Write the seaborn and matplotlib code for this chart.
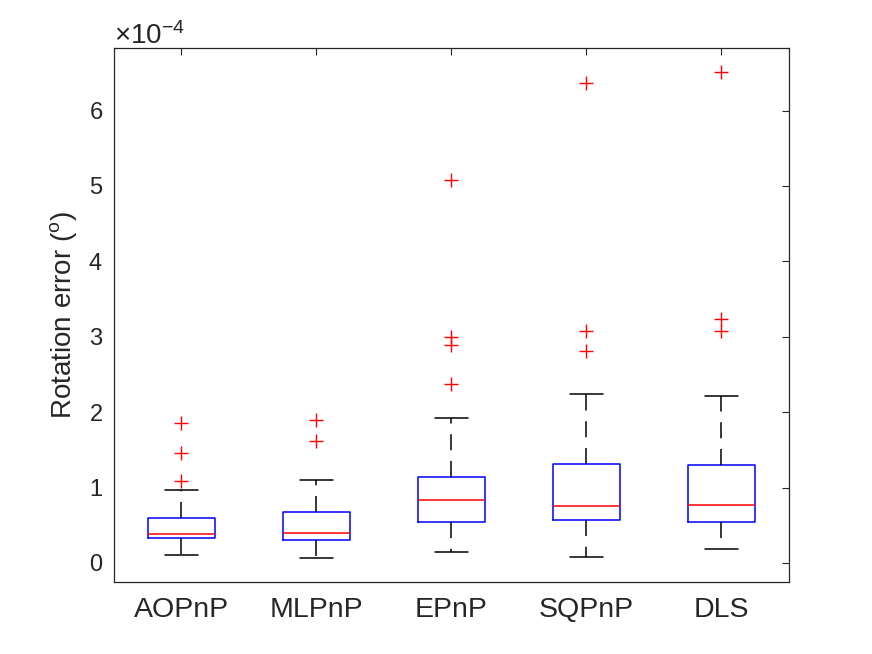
import numpy as np
import pandas as pd
import matplotlib
matplotlib.use("Agg")
import matplotlib.pyplot as plt
import seaborn as sns
from matplotlib.ticker import ScalarFormatter

# box statistics, in units of 1e-4 degrees
methods = ["AOPnP", "MLPnP", "EPnP", "SQPnP", "DLS"]
lower_whisker = [0.110, 0.070, 0.150, 0.075, 0.182]
q1 = [0.332, 0.301, 0.544, 0.566, 0.548]
median = [0.389, 0.398, 0.836, 0.760, 0.773]
q3 = [0.593, 0.672, 1.137, 1.309, 1.304]
upper_whisker = [0.972, 1.101, 1.919, 2.246, 2.210]
outliers = [
    [1.088, 1.455, 1.861],
    [1.622, 1.897],
    [2.370, 2.891, 3.001, 5.080],
    [2.816, 3.081, 6.362],
    [3.081, 3.232, 6.508],
]
scale = 1e-4


def samples(lw, a, m, b, uw, out):
    # sample set whose quartiles / whiskers / fliers give exactly these stats
    k = len(out) + 1
    return [lw] + [a] * k + [m] * k + [b] * k + [uw] + list(out)


rows = []
for i, name in enumerate(methods):
    for v in samples(lower_whisker[i], q1[i], median[i], q3[i],
                     upper_whisker[i], outliers[i]):
        rows.append((name, v * scale))
df = pd.DataFrame(rows, columns=["method", "value"])

sns.set_style("white")
plt.rcParams["font.family"] = ["Liberation Sans", "DejaVu Sans"]
plt.rcParams["mathtext.fontset"] = "custom"
plt.rcParams["mathtext.rm"] = "Liberation Sans"

axcol = "#262626"
fig = plt.figure(figsize=(8.72, 6.54), dpi=100)
ax = fig.add_axes([0.1307, 0.1101, 0.7741, 0.8165])

sns.boxplot(
    data=df, x="method", y="value", order=methods, ax=ax,
    width=0.5, fill=False, whis=1.5, linewidth=1.0,
    boxprops=dict(color="blue", linewidth=1.1),
    medianprops=dict(color="red", linewidth=1.1),
    whiskerprops=dict(color="black", linestyle=(0, (10.5, 7)), linewidth=1.1),
    capprops=dict(color="black", linewidth=1.1),
    flierprops=dict(marker="+", markeredgecolor="red", markersize=10,
                    markeredgewidth=1.0, linestyle="none"),
)

ax.set_xlim(-0.5, 4.5)
ax.set_ylim(-0.252 * scale, 6.83 * scale)
ax.set_yticks(np.arange(0, 7) * scale)
fmt = ScalarFormatter(useMathText=True)
fmt.set_powerlimits((-3, 3))
ax.yaxis.set_major_formatter(fmt)
ax.yaxis.get_offset_text().set_fontsize(20)
ax.yaxis.get_offset_text().set_color(axcol)

ax.set_xlabel("")
ax.set_ylabel(r"Rotation error ($^{\mathrm{o}}$)", fontsize=20, color=axcol,
              labelpad=6)
ax.tick_params(direction="in", top=True, right=True, length=5, width=0.8,
               colors=axcol)
ax.tick_params(axis="y", labelsize=17, pad=8)
ax.tick_params(axis="x", labelsize=20.5, pad=11)
for sp in ax.spines.values():
    sp.set_visible(True)
    sp.set_color(axcol)
    sp.set_linewidth(0.9)

fig.savefig("out.png", dpi=100)
